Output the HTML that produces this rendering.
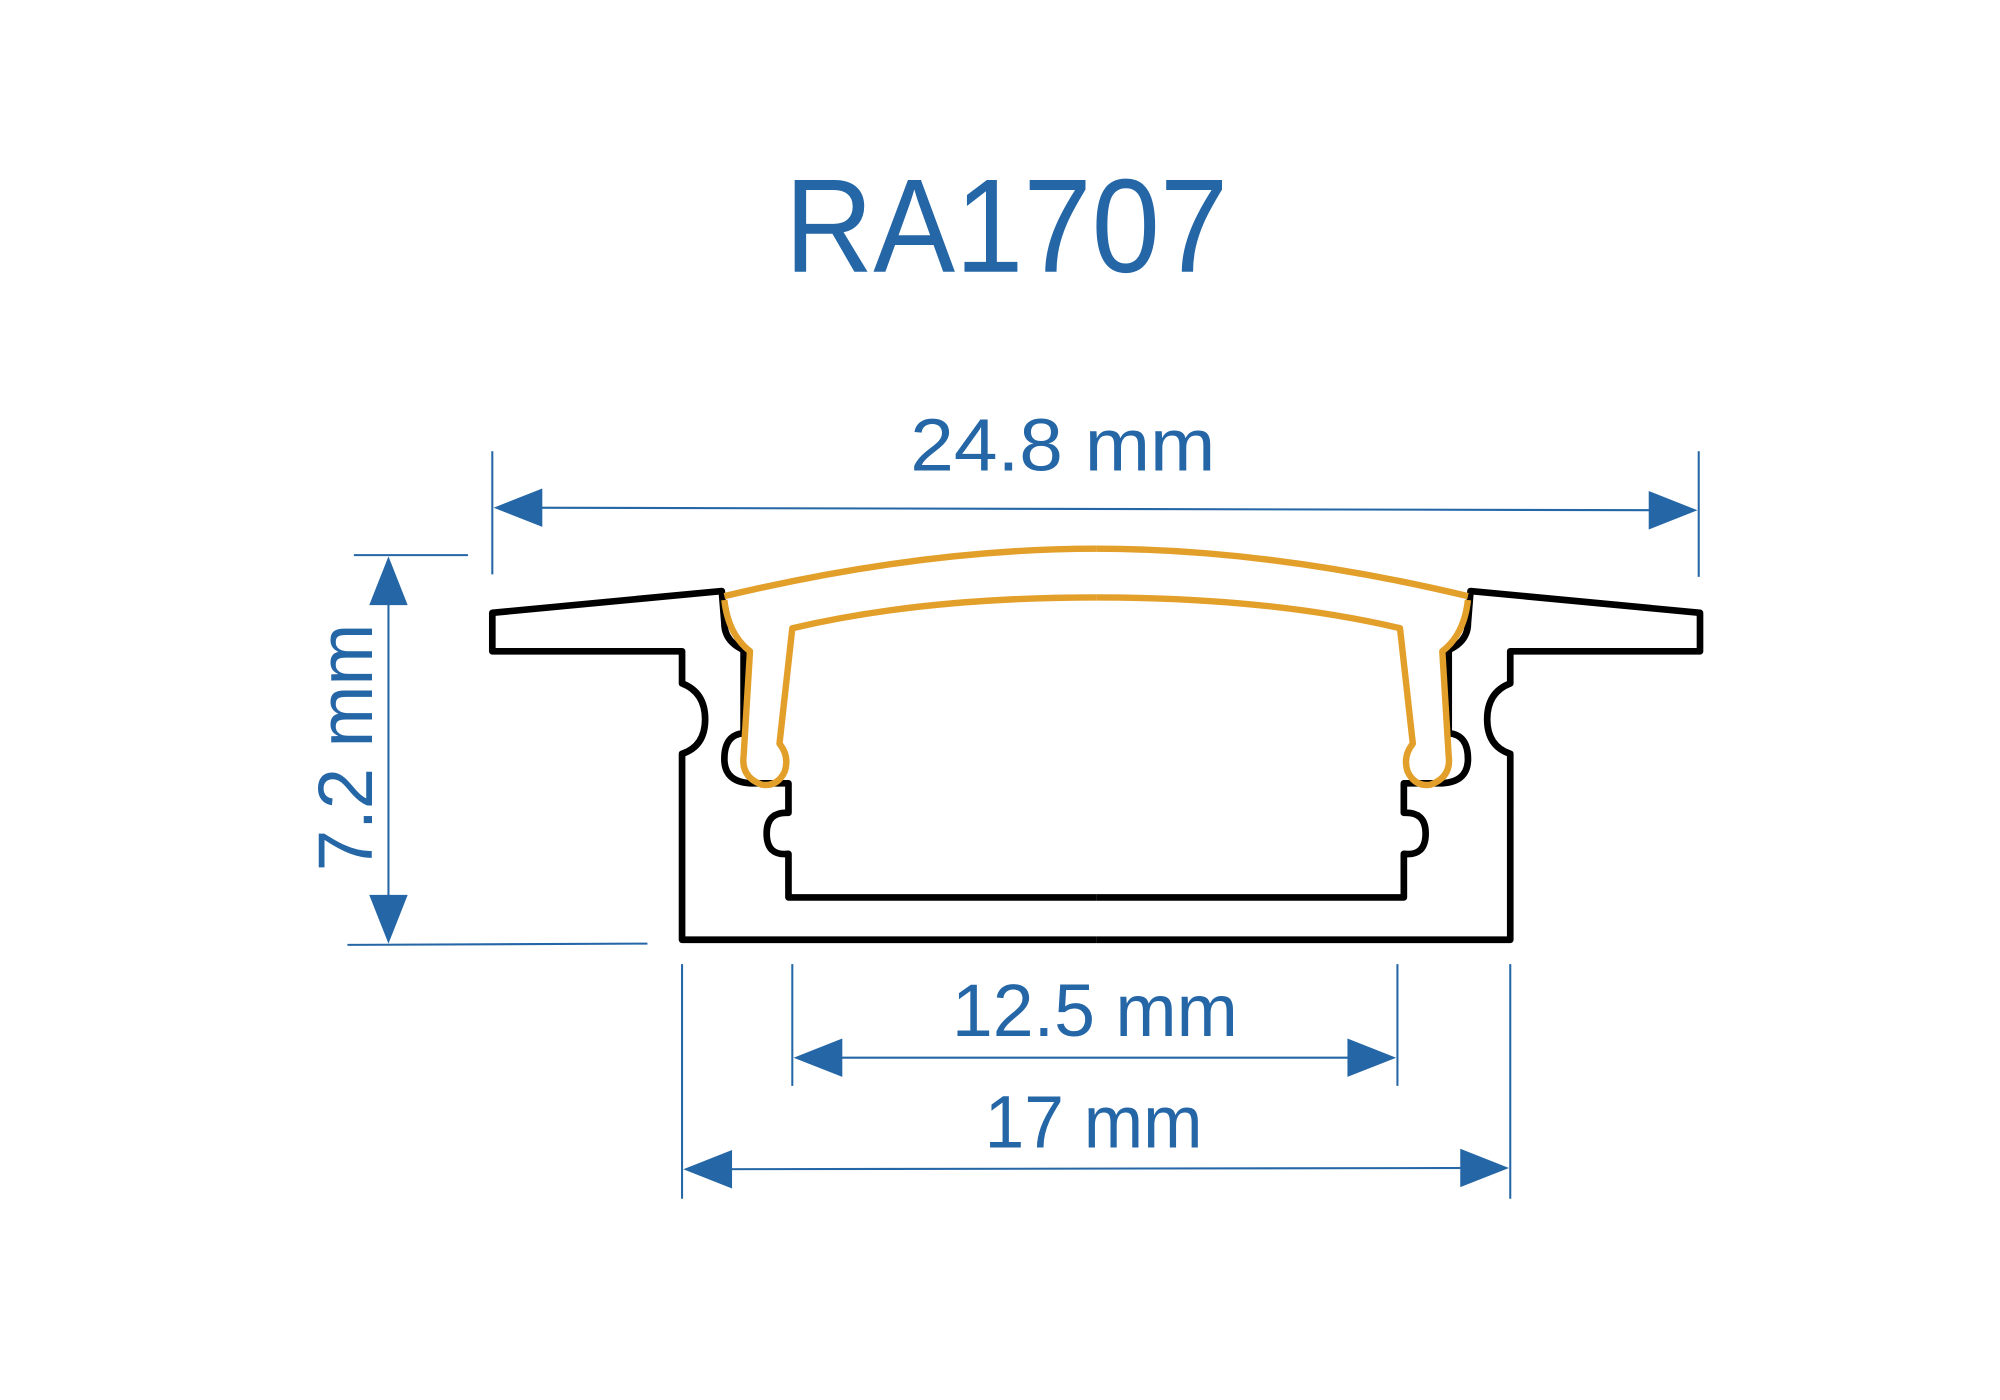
<!DOCTYPE html>
<html><head><meta charset="utf-8"><style>
html,body{margin:0;padding:0;background:#fff;}
svg{display:block;}
</style></head><body>
<svg width="2000" height="1400" viewBox="0 0 1560 1092" preserveAspectRatio="none" xmlns="http://www.w3.org/2000/svg">
<g font-family="Liberation Sans, sans-serif" fill="#2466a6">
<text x="785" y="212" font-size="104" text-anchor="middle" textLength="346" lengthAdjust="spacingAndGlyphs">RA1707</text>
<text x="829" y="367" font-size="58" text-anchor="middle" textLength="238" lengthAdjust="spacingAndGlyphs">24.8 mm</text>
<text x="854" y="808" font-size="58" text-anchor="middle" textLength="223" lengthAdjust="spacingAndGlyphs">12.5 mm</text>
<text x="853" y="895" font-size="58" text-anchor="middle" textLength="170" lengthAdjust="spacingAndGlyphs">17 mm</text>
<text transform="translate(290,583) rotate(-90)" x="0" y="0" font-size="60" text-anchor="middle" textLength="193" lengthAdjust="spacingAndGlyphs">7.2 mm</text>
</g>
<g stroke="#2466a6" stroke-width="1.6" fill="none">
<line x1="384" y1="352" x2="384" y2="448"/>
<line x1="1325" y1="352" x2="1325" y2="450"/>
<line x1="400" y1="396" x2="1310" y2="398"/>
<line x1="276" y1="433" x2="365" y2="433"/>
<line x1="271" y1="737" x2="505" y2="736"/>
<line x1="303" y1="445" x2="303" y2="725"/>
<line x1="618" y1="752" x2="618" y2="847"/>
<line x1="1090" y1="752" x2="1090" y2="847"/>
<line x1="630" y1="825" x2="1078" y2="825"/>
<line x1="532" y1="752" x2="532" y2="935"/>
<line x1="1178" y1="752" x2="1178" y2="935"/>
<line x1="545" y1="912" x2="1165" y2="911"/>
</g>
<g fill="#2466a6">
<polygon points="385,396 423,381 423,411"/>
<polygon points="1324,398 1286,383 1286,413"/>
<polygon points="303,434 288,472 318,472"/>
<polygon points="303,736 288,698 318,698"/>
<polygon points="619,825 657,810 657,840"/>
<polygon points="1089,825 1051,810 1051,840"/>
<polygon points="533,912 571,897 571,927"/>
<polygon points="1177,911 1139,896 1139,926"/>
</g>
<g id="half" fill="none" stroke-linejoin="round">
<path d="M855,700 L615,700 L615,666 Q598,668 598,650 Q598,633 615,634 L615,611 L588,611 Q565,611 565,592 Q565,573 580,572 L580,507 Q565,500 565,486 L563,461 L384,478 L384,508 L532,508 L532,533 Q550,540 550,561 Q550,582 532,588 L532,733 L855,733" stroke="#000" stroke-width="5.2"/>
<path d="M855,428 Q720,428 565,465" stroke="#e29f2a" stroke-width="5"/>
<path d="M855,466 Q720,466 618,490 L608,580 Q616,590 612,602 Q606,614 594,612 Q578,606 580,590 L585,508 Q568,495 565,468" stroke="#e29f2a" stroke-width="5"/>
</g>
<use href="#half" transform="translate(1710,0) scale(-1,1)"/>
</svg>
</body></html>
